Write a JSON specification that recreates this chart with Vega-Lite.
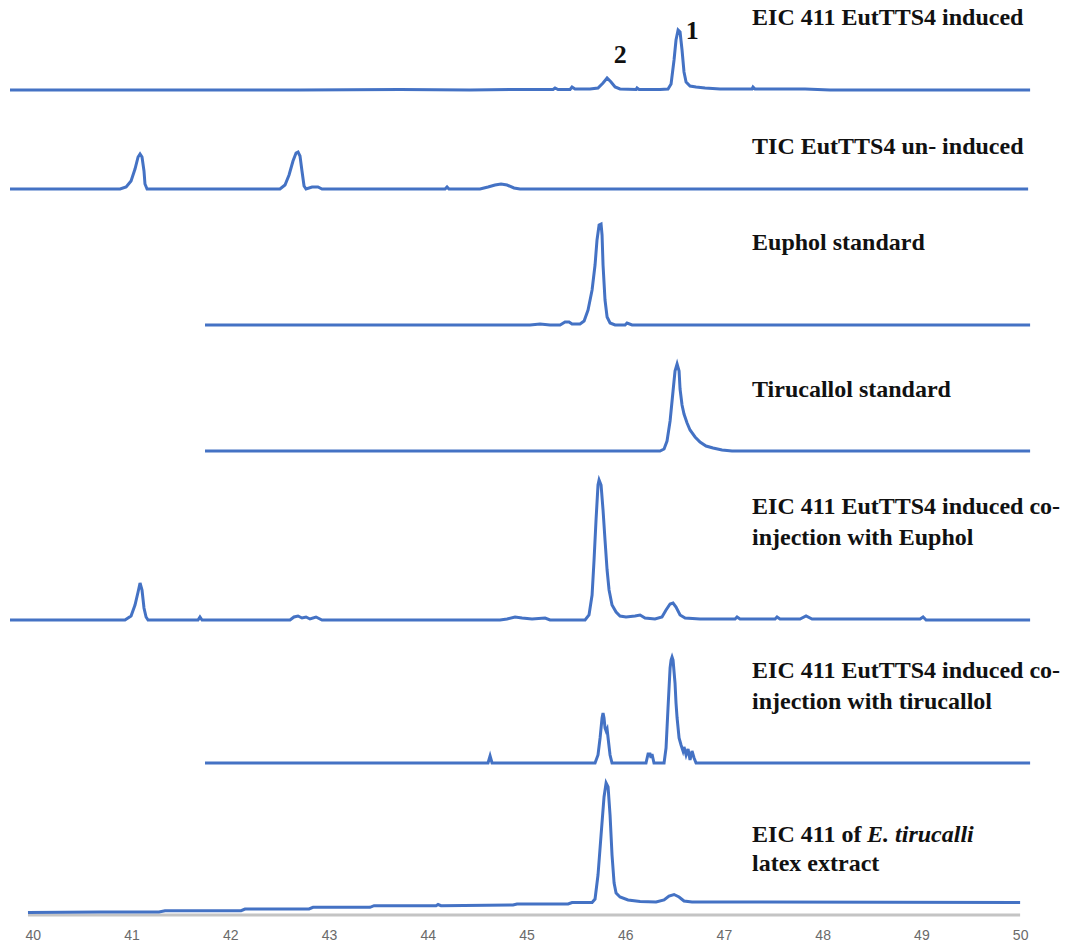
{
  "$schema": "https://vega.github.io/schema/vega-lite/v6.json",
  "padding": {"left": 4, "top": 0, "right": 0, "bottom": 0},
  "bounds": "flush",
  "spacing": 0,
  "config": {"view": {"stroke": null}, "text": {"font": "Liberation Serif", "fontWeight": "bold", "fontSize": 24, "color": "#111111", "align": "left", "baseline": "middle"}, "line": {"color": "#4472C4", "strokeWidth": 3}},
  "datasets": {
    "p1": [
      {"t": 39.770, "i": 0}, {"t": 42.707, "i": 0}, {"t": 43.720, "i": 0.5}, {"t": 44.429, "i": 0}, {"t": 44.935, "i": 0.5},
      {"t": 45.270, "i": 0.5}, {"t": 45.290, "i": 2}, {"t": 45.320, "i": 0.5}, {"t": 45.442, "i": 0.5}, {"t": 45.462, "i": 3}, {"t": 45.492, "i": 1},
      {"t": 45.644, "i": 1}, {"t": 45.725, "i": 2}, {"t": 45.776, "i": 7}, {"t": 45.817, "i": 12}, {"t": 45.857, "i": 8}, {"t": 45.898, "i": 3},
      {"t": 45.948, "i": 1}, {"t": 46.110, "i": 0.5}, {"t": 46.120, "i": 2}, {"t": 46.141, "i": 0.5}, {"t": 46.353, "i": 0.5}, {"t": 46.434, "i": 1},
      {"t": 46.465, "i": 6}, {"t": 46.495, "i": 30}, {"t": 46.515, "i": 50}, {"t": 46.536, "i": 60}, {"t": 46.556, "i": 58}, {"t": 46.576, "i": 40},
      {"t": 46.596, "i": 18}, {"t": 46.617, "i": 8}, {"t": 46.657, "i": 4}, {"t": 46.718, "i": 3}, {"t": 46.809, "i": 2}, {"t": 46.961, "i": 1},
      {"t": 47.285, "i": 1}, {"t": 47.295, "i": 3}, {"t": 47.315, "i": 1}, {"t": 47.822, "i": 1}, {"t": 48.075, "i": 0}, {"t": 50.101, "i": 0}
    ],
    "p2": [
      {"t": 39.770, "i": 0}, {"t": 40.885, "i": 0}, {"t": 40.946, "i": 2}, {"t": 40.996, "i": 8}, {"t": 41.036, "i": 20}, {"t": 41.067, "i": 32},
      {"t": 41.087, "i": 35}, {"t": 41.107, "i": 32}, {"t": 41.127, "i": 18}, {"t": 41.137, "i": 5}, {"t": 41.158, "i": 0},
      {"t": 42.504, "i": 0}, {"t": 42.555, "i": 4}, {"t": 42.596, "i": 14}, {"t": 42.636, "i": 28}, {"t": 42.667, "i": 36}, {"t": 42.687, "i": 37},
      {"t": 42.707, "i": 33}, {"t": 42.727, "i": 18}, {"t": 42.748, "i": 3}, {"t": 42.768, "i": 0}, {"t": 42.829, "i": 2}, {"t": 42.889, "i": 2},
      {"t": 42.930, "i": 0}, {"t": 44.176, "i": 0}, {"t": 44.196, "i": 2}, {"t": 44.216, "i": 0}, {"t": 44.530, "i": 0}, {"t": 44.611, "i": 2},
      {"t": 44.682, "i": 4}, {"t": 44.743, "i": 5}, {"t": 44.804, "i": 4}, {"t": 44.874, "i": 1}, {"t": 44.935, "i": 0}, {"t": 50.081, "i": 0}
    ],
    "p3": [
      {"t": 41.745, "i": 0}, {"t": 45.037, "i": 0}, {"t": 45.138, "i": 1}, {"t": 45.239, "i": 0}, {"t": 45.341, "i": 0}, {"t": 45.391, "i": 3},
      {"t": 45.432, "i": 3}, {"t": 45.462, "i": 1}, {"t": 45.543, "i": 1}, {"t": 45.584, "i": 4}, {"t": 45.624, "i": 15}, {"t": 45.665, "i": 35},
      {"t": 45.695, "i": 60}, {"t": 45.715, "i": 85}, {"t": 45.736, "i": 100}, {"t": 45.756, "i": 101}, {"t": 45.766, "i": 90}, {"t": 45.776, "i": 60},
      {"t": 45.796, "i": 25}, {"t": 45.817, "i": 8}, {"t": 45.847, "i": 2}, {"t": 45.898, "i": 0}, {"t": 45.999, "i": 0}, {"t": 46.019, "i": 2},
      {"t": 46.070, "i": 0}, {"t": 50.101, "i": 0}
    ],
    "p4": [
      {"t": 41.745, "i": 0}, {"t": 46.353, "i": 0}, {"t": 46.394, "i": 2}, {"t": 46.424, "i": 10}, {"t": 46.455, "i": 30}, {"t": 46.485, "i": 60},
      {"t": 46.505, "i": 80}, {"t": 46.526, "i": 87}, {"t": 46.546, "i": 80}, {"t": 46.556, "i": 62}, {"t": 46.576, "i": 46}, {"t": 46.596, "i": 37},
      {"t": 46.627, "i": 28}, {"t": 46.657, "i": 21}, {"t": 46.708, "i": 14}, {"t": 46.758, "i": 9}, {"t": 46.819, "i": 5}, {"t": 46.890, "i": 3},
      {"t": 46.981, "i": 1}, {"t": 47.082, "i": 0}, {"t": 50.101, "i": 0}
    ],
    "p5": [
      {"t": 39.770, "i": 0}, {"t": 40.934, "i": 0}, {"t": 40.996, "i": 4}, {"t": 41.036, "i": 15}, {"t": 41.067, "i": 28}, {"t": 41.087, "i": 37},
      {"t": 41.107, "i": 30}, {"t": 41.127, "i": 12}, {"t": 41.148, "i": 3}, {"t": 41.168, "i": 0}, {"t": 41.674, "i": 0}, {"t": 41.694, "i": 3},
      {"t": 41.715, "i": 0}, {"t": 42.606, "i": 0}, {"t": 42.646, "i": 3}, {"t": 42.687, "i": 4}, {"t": 42.727, "i": 2}, {"t": 42.768, "i": 3},
      {"t": 42.808, "i": 1}, {"t": 42.869, "i": 3}, {"t": 42.930, "i": 0}, {"t": 44.733, "i": 0}, {"t": 44.804, "i": 1}, {"t": 44.885, "i": 3},
      {"t": 44.956, "i": 2}, {"t": 45.057, "i": 1}, {"t": 45.189, "i": 2}, {"t": 45.239, "i": 0}, {"t": 45.594, "i": 0}, {"t": 45.634, "i": 5},
      {"t": 45.665, "i": 25}, {"t": 45.685, "i": 60}, {"t": 45.705, "i": 100}, {"t": 45.725, "i": 135}, {"t": 45.736, "i": 140}, {"t": 45.756, "i": 135},
      {"t": 45.776, "i": 110}, {"t": 45.796, "i": 80}, {"t": 45.817, "i": 50}, {"t": 45.837, "i": 30}, {"t": 45.867, "i": 15}, {"t": 45.908, "i": 8},
      {"t": 45.948, "i": 4}, {"t": 46.009, "i": 3}, {"t": 46.100, "i": 4}, {"t": 46.151, "i": 5}, {"t": 46.201, "i": 2}, {"t": 46.302, "i": 1},
      {"t": 46.373, "i": 3}, {"t": 46.414, "i": 10}, {"t": 46.455, "i": 16}, {"t": 46.485, "i": 17}, {"t": 46.515, "i": 13}, {"t": 46.556, "i": 5},
      {"t": 46.607, "i": 2}, {"t": 46.758, "i": 1}, {"t": 47.113, "i": 1}, {"t": 47.133, "i": 3}, {"t": 47.163, "i": 1}, {"t": 47.518, "i": 1},
      {"t": 47.538, "i": 3}, {"t": 47.568, "i": 1}, {"t": 47.771, "i": 1}, {"t": 47.832, "i": 4}, {"t": 47.893, "i": 1}, {"t": 48.379, "i": 1},
      {"t": 48.987, "i": 1}, {"t": 49.017, "i": 3}, {"t": 49.048, "i": 0}, {"t": 50.101, "i": 0}
    ],
    "p6": [
      {"t": 41.745, "i": 0}, {"t": 44.611, "i": 0}, {"t": 44.632, "i": 7}, {"t": 44.652, "i": 0}, {"t": 45.695, "i": 0}, {"t": 45.725, "i": 8},
      {"t": 45.746, "i": 25}, {"t": 45.766, "i": 45}, {"t": 45.776, "i": 50}, {"t": 45.786, "i": 45}, {"t": 45.796, "i": 35}, {"t": 45.807, "i": 32},
      {"t": 45.817, "i": 34}, {"t": 45.827, "i": 25}, {"t": 45.847, "i": 8}, {"t": 45.867, "i": 0}, {"t": 46.211, "i": 0}, {"t": 46.232, "i": 9},
      {"t": 46.252, "i": 9}, {"t": 46.262, "i": 5}, {"t": 46.272, "i": 9}, {"t": 46.292, "i": 0}, {"t": 46.394, "i": 0}, {"t": 46.414, "i": 15},
      {"t": 46.434, "i": 55}, {"t": 46.455, "i": 95}, {"t": 46.465, "i": 103}, {"t": 46.475, "i": 106}, {"t": 46.485, "i": 103}, {"t": 46.505, "i": 80},
      {"t": 46.515, "i": 60}, {"t": 46.526, "i": 45}, {"t": 46.546, "i": 25}, {"t": 46.566, "i": 18}, {"t": 46.586, "i": 12}, {"t": 46.596, "i": 16},
      {"t": 46.617, "i": 8}, {"t": 46.637, "i": 14}, {"t": 46.657, "i": 3}, {"t": 46.677, "i": 12}, {"t": 46.698, "i": 5}, {"t": 46.718, "i": 0},
      {"t": 50.101, "i": 0}
    ],
    "p7": [
      {"t": 39.952, "i": 2.5}, {"t": 40.682, "i": 3}, {"t": 41.279, "i": 3}, {"t": 41.340, "i": 4.3}, {"t": 42.110, "i": 4.3}, {"t": 42.150, "i": 6},
      {"t": 42.798, "i": 6}, {"t": 42.839, "i": 7.7}, {"t": 43.416, "i": 7.7}, {"t": 43.457, "i": 9.3}, {"t": 44.085, "i": 9.3}, {"t": 44.105, "i": 10.5},
      {"t": 44.135, "i": 9.3}, {"t": 44.864, "i": 10}, {"t": 44.905, "i": 11}, {"t": 45.422, "i": 11}, {"t": 45.462, "i": 12.5}, {"t": 45.665, "i": 12.5},
      {"t": 45.695, "i": 16}, {"t": 45.725, "i": 40}, {"t": 45.756, "i": 80}, {"t": 45.786, "i": 118}, {"t": 45.807, "i": 132}, {"t": 45.827, "i": 128},
      {"t": 45.847, "i": 100}, {"t": 45.867, "i": 60}, {"t": 45.888, "i": 32}, {"t": 45.908, "i": 22}, {"t": 45.948, "i": 18}, {"t": 46.029, "i": 15},
      {"t": 46.151, "i": 13.5}, {"t": 46.313, "i": 13}, {"t": 46.394, "i": 15}, {"t": 46.444, "i": 19}, {"t": 46.495, "i": 20.5}, {"t": 46.546, "i": 18},
      {"t": 46.596, "i": 14}, {"t": 46.677, "i": 13}, {"t": 50.000, "i": 12.5}
    ]
  },
  "vconcat": [
    {
      "width": 1020, "height": 90,
      "layer": [
        {"data": {"name": "p1"}, "mark": {"type": "line"},
         "encoding": {"x": {"field": "t", "type": "quantitative", "scale": {"domain": [39.77, 50.1], "nice": false, "zero": false}, "axis": null},
                      "y": {"field": "i", "type": "quantitative", "scale": {"domain": [0, 90], "nice": false}, "axis": null}}},
        {"data": {"values": [{"k": 1}]}, "mark": {"type": "text", "text": "EIC 411 EutTTS4 induced"},
         "encoding": {"x": {"datum": 47.285, "axis": null}, "y": {"datum": 72, "axis": null}}},
        {"data": {"values": [{"k": 1}]}, "mark": {"type": "text", "text": "1", "align": "center", "fontSize": 26},
         "encoding": {"x": {"datum": 46.68, "axis": null}, "y": {"datum": 59, "axis": null}}},
        {"data": {"values": [{"k": 1}]}, "mark": {"type": "text", "text": "2", "align": "center", "fontSize": 26},
         "encoding": {"x": {"datum": 45.95, "axis": null}, "y": {"datum": 35, "axis": null}}}
      ]
    },
    {
      "width": 1020, "height": 99,
      "layer": [
        {"data": {"name": "p2"}, "mark": {"type": "line"},
         "encoding": {"x": {"field": "t", "type": "quantitative", "scale": {"domain": [39.77, 50.1], "nice": false, "zero": false}, "axis": null},
                      "y": {"field": "i", "type": "quantitative", "scale": {"domain": [0, 99], "nice": false}, "axis": null}}},
        {"data": {"values": [{"k": 1}]}, "mark": {"type": "text", "text": "TIC EutTTS4 un- induced"},
         "encoding": {"x": {"datum": 47.285, "axis": null}, "y": {"datum": 42, "axis": null}}}
      ]
    },
    {
      "width": 1020, "height": 136,
      "layer": [
        {"data": {"name": "p3"}, "mark": {"type": "line"},
         "encoding": {"x": {"field": "t", "type": "quantitative", "scale": {"domain": [39.77, 50.1], "nice": false, "zero": false}, "axis": null},
                      "y": {"field": "i", "type": "quantitative", "scale": {"domain": [0, 136], "nice": false}, "axis": null}}},
        {"data": {"values": [{"k": 1}]}, "mark": {"type": "text", "text": "Euphol standard"},
         "encoding": {"x": {"datum": 47.285, "axis": null}, "y": {"datum": 82, "axis": null}}}
      ]
    },
    {
      "width": 1020, "height": 126,
      "layer": [
        {"data": {"name": "p4"}, "mark": {"type": "line"},
         "encoding": {"x": {"field": "t", "type": "quantitative", "scale": {"domain": [39.77, 50.1], "nice": false, "zero": false}, "axis": null},
                      "y": {"field": "i", "type": "quantitative", "scale": {"domain": [0, 126], "nice": false}, "axis": null}}},
        {"data": {"values": [{"k": 1}]}, "mark": {"type": "text", "text": "Tirucallol standard"},
         "encoding": {"x": {"datum": 47.285, "axis": null}, "y": {"datum": 61, "axis": null}}}
      ]
    },
    {
      "width": 1020, "height": 169,
      "layer": [
        {"data": {"name": "p5"}, "mark": {"type": "line"},
         "encoding": {"x": {"field": "t", "type": "quantitative", "scale": {"domain": [39.77, 50.1], "nice": false, "zero": false}, "axis": null},
                      "y": {"field": "i", "type": "quantitative", "scale": {"domain": [0, 169], "nice": false}, "axis": null}}},
        {"data": {"values": [{"k": 1}]}, "mark": {"type": "text", "text": "EIC 411 EutTTS4 induced co-"},
         "encoding": {"x": {"datum": 47.285, "axis": null}, "y": {"datum": 113, "axis": null}}},
        {"data": {"values": [{"k": 1}]}, "mark": {"type": "text", "text": "injection with Euphol"},
         "encoding": {"x": {"datum": 47.285, "axis": null}, "y": {"datum": 82, "axis": null}}}
      ]
    },
    {
      "width": 1020, "height": 143,
      "layer": [
        {"data": {"name": "p6"}, "mark": {"type": "line"},
         "encoding": {"x": {"field": "t", "type": "quantitative", "scale": {"domain": [39.77, 50.1], "nice": false, "zero": false}, "axis": null},
                      "y": {"field": "i", "type": "quantitative", "scale": {"domain": [0, 143], "nice": false}, "axis": null}}},
        {"data": {"values": [{"k": 1}]}, "mark": {"type": "text", "text": "EIC 411 EutTTS4 induced co-"},
         "encoding": {"x": {"datum": 47.285, "axis": null}, "y": {"datum": 92, "axis": null}}},
        {"data": {"values": [{"k": 1}]}, "mark": {"type": "text", "text": "injection with tirucallol"},
         "encoding": {"x": {"datum": 47.285, "axis": null}, "y": {"datum": 61, "axis": null}}}
      ]
    },
    {
      "width": 1020, "height": 152,
      "layer": [
        {"data": {"name": "p7"},
         "mark": {"type": "rule", "color": "#c4c4c4", "strokeWidth": 3},
         "encoding": {"x": {"aggregate": "min", "field": "t", "type": "quantitative",
                            "axis": {"values": [40, 41, 42, 43, 44, 45, 46, 47, 48, 49, 50], "format": "d", "domain": false, "ticks": false, "grid": false, "title": null,
                                     "labelFont": "Liberation Sans", "labelFontSize": 14, "labelColor": "#6a6a6a", "labelPadding": 13}},
                      "x2": {"aggregate": "max", "field": "t"}, "y": {"datum": 0, "axis": null}}},
        {"data": {"name": "p7"}, "mark": {"type": "line"},
         "encoding": {"x": {"field": "t", "type": "quantitative", "scale": {"domain": [39.77, 50.1], "nice": false, "zero": false},
                            "axis": {"values": [40, 41, 42, 43, 44, 45, 46, 47, 48, 49, 50], "format": "d", "domain": false, "ticks": false, "grid": false, "title": null,
                                     "labelFont": "Liberation Sans", "labelFontSize": 14, "labelColor": "#6a6a6a", "labelPadding": 13}},
                      "y": {"field": "i", "type": "quantitative", "scale": {"domain": [0, 152], "nice": false}, "axis": null}}},
        {"data": {"values": [{"k": 1}]}, "mark": {"type": "text", "text": "EIC 411 of"},
         "encoding": {"x": {"datum": 47.285,
                            "axis": {"values": [40, 41, 42, 43, 44, 45, 46, 47, 48, 49, 50], "format": "d", "domain": false, "ticks": false, "grid": false, "title": null,
                                     "labelFont": "Liberation Sans", "labelFontSize": 14, "labelColor": "#6a6a6a", "labelPadding": 13}},
                      "y": {"datum": 80, "axis": null}}},
        {"data": {"values": [{"k": 1}]}, "mark": {"type": "text", "text": "E. tirucalli", "fontStyle": "italic"},
         "encoding": {"x": {"datum": 48.45,
                            "axis": {"values": [40, 41, 42, 43, 44, 45, 46, 47, 48, 49, 50], "format": "d", "domain": false, "ticks": false, "grid": false, "title": null,
                                     "labelFont": "Liberation Sans", "labelFontSize": 14, "labelColor": "#6a6a6a", "labelPadding": 13}},
                      "y": {"datum": 80, "axis": null}}},
        {"data": {"values": [{"k": 1}]}, "mark": {"type": "text", "text": "latex extract"},
         "encoding": {"x": {"datum": 47.285,
                            "axis": {"values": [40, 41, 42, 43, 44, 45, 46, 47, 48, 49, 50], "format": "d", "domain": false, "ticks": false, "grid": false, "title": null,
                                     "labelFont": "Liberation Sans", "labelFontSize": 14, "labelColor": "#6a6a6a", "labelPadding": 13}},
                      "y": {"datum": 51, "axis": null}}}
      ]
    }
  ]
}
